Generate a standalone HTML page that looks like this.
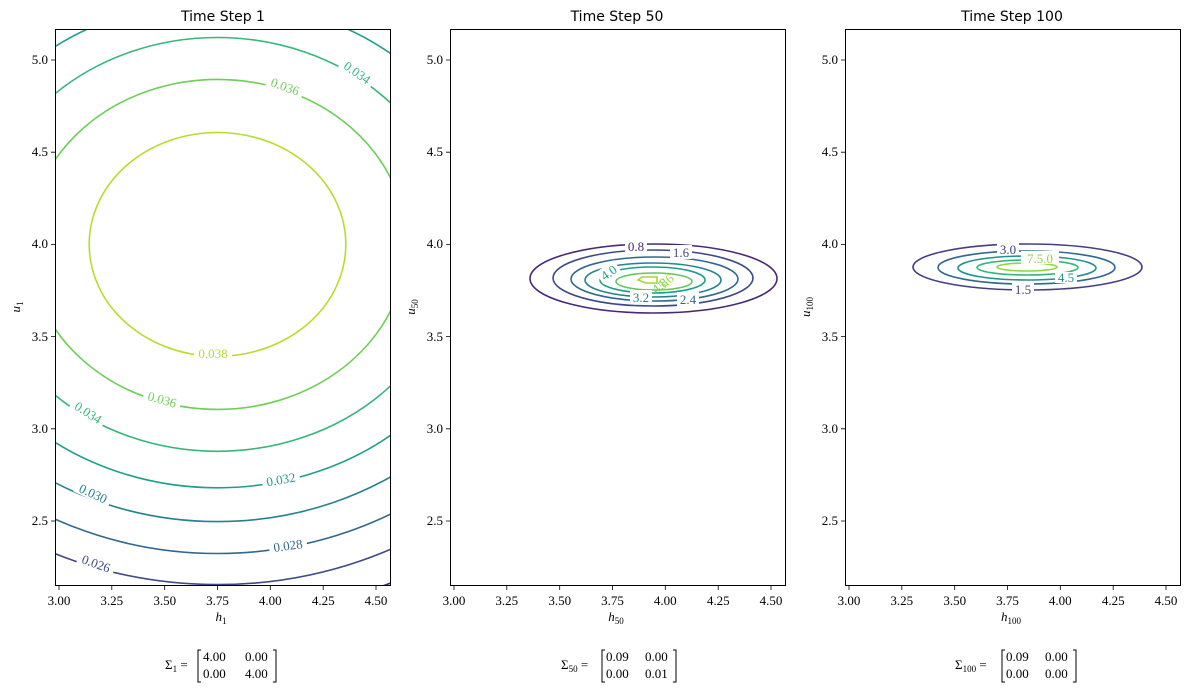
<!DOCTYPE html>
<html><head><meta charset="utf-8"><style>
html,body{margin:0;padding:0;background:#fff}
svg{display:block}
.t{font-family:"Liberation Serif",serif;font-size:13px;fill:#000}
.ttl{font-family:"DejaVu Sans","Liberation Sans",sans-serif;font-size:14px;fill:#000}
.lbl{font-family:"Liberation Serif",serif;font-size:13px}
</style></head><body>
<svg width="1189" height="692" viewBox="0 0 1189 692" xmlns="http://www.w3.org/2000/svg">
<defs>
<clipPath id="c1"><rect x="55" y="29" width="336" height="557"/></clipPath>
</defs>
<g clip-path="url(#c1)" fill="none" stroke-width="1.6">
<ellipse cx="217.5" cy="244.4" rx="424.9" ry="370.8" stroke="#482878"/>
<ellipse cx="217.5" cy="244.4" rx="389.8" ry="340.2" stroke="#3e4a89"/>
<ellipse cx="217.5" cy="244.4" rx="354.1" ry="309.1" stroke="#31688e"/>
<ellipse cx="217.5" cy="244.4" rx="317.6" ry="277.2" stroke="#26828e"/>
<ellipse cx="217.5" cy="244.4" rx="278.9" ry="243.4" stroke="#1f9e89"/>
<ellipse cx="217.5" cy="244.4" rx="237.1" ry="206.9" stroke="#35b779"/>
<ellipse cx="217.5" cy="244.4" rx="189.1" ry="165.0" stroke="#6ece58"/>
<ellipse cx="217.5" cy="244.4" rx="128.3" ry="111.9" stroke="#b5de2b"/>
</g>
<g class="lbl" text-anchor="middle">
<g transform="translate(357,73) rotate(35)"><rect x="-19" y="-8" width="38" height="14" fill="#fff"/><text y="4" fill="#35b779">0.034</text></g>
<g transform="translate(285,87) rotate(20)"><rect x="-19" y="-8" width="38" height="14" fill="#fff"/><text y="4" fill="#6ece58">0.036</text></g>
<g transform="translate(213,354)"><rect x="-19" y="-8" width="38" height="14" fill="#fff"/><text y="4" fill="#b5de2b">0.038</text></g>
<g transform="translate(162,400) rotate(16)"><rect x="-19" y="-8" width="38" height="14" fill="#fff"/><text y="4" fill="#6ece58">0.036</text></g>
<g transform="translate(88,413) rotate(33)"><rect x="-19" y="-8" width="38" height="14" fill="#fff"/><text y="4" fill="#35b779">0.034</text></g>
<g transform="translate(281,480) rotate(-10)"><rect x="-19" y="-8" width="38" height="14" fill="#fff"/><text y="4" fill="#1f9e89">0.032</text></g>
<g transform="translate(93,494) rotate(25)"><rect x="-19" y="-8" width="38" height="14" fill="#fff"/><text y="4" fill="#26828e">0.030</text></g>
<g transform="translate(288,546) rotate(-8)"><rect x="-19" y="-8" width="38" height="14" fill="#fff"/><text y="4" fill="#31688e">0.028</text></g>
<g transform="translate(96,564) rotate(20)"><rect x="-19" y="-8" width="38" height="14" fill="#fff"/><text y="4" fill="#3e4a89">0.026</text></g>
</g>

<!-- panel 2 -->
<g fill="none" stroke-width="1.6">
<ellipse cx="653.5" cy="278.5" rx="123.5" ry="34.5" stroke="#482878"/>
<ellipse cx="653" cy="278" rx="100" ry="28" stroke="#3e4989"/>
<ellipse cx="654.5" cy="279" rx="83.5" ry="22" stroke="#31688e"/>
<ellipse cx="653" cy="280" rx="68" ry="17" stroke="#26828e"/>
<ellipse cx="652.5" cy="280" rx="52.5" ry="13" stroke="#1f9e89"/>
<ellipse cx="654" cy="281.5" rx="38" ry="8.5" stroke="#5ec962"/>
<polygon points="638,280 642,277 657,277 657,283 646,283" stroke="#a0da39"/>
</g>
<g class="lbl" text-anchor="middle">
<g transform="translate(636,247)"><rect x="-11" y="-8" width="22" height="14" fill="#fff"/><text y="4" fill="#482878">0.8</text></g>
<g transform="translate(681,253)"><rect x="-11" y="-8" width="22" height="14" fill="#fff"/><text y="4" fill="#3e4989">1.6</text></g>
<g transform="translate(688,300)"><rect x="-11" y="-8" width="22" height="14" fill="#fff"/><text y="4" fill="#31688e">2.4</text></g>
<g transform="translate(641,298)"><rect x="-11" y="-8" width="22" height="14" fill="#fff"/><text y="4" fill="#26828e">3.2</text></g>
<g transform="translate(609,273) rotate(-35)"><rect x="-11" y="-8" width="22" height="14" fill="#fff"/><text y="4" fill="#1f9e89">4.0</text></g>
<g transform="translate(660,286) rotate(-40)"><text y="4" fill="#7ad151">4.8</text></g>
<g transform="translate(666,282) rotate(-40)"><text y="4" fill="#a0da39">5.6</text></g>
</g>

<!-- panel 3 -->
<g fill="none" stroke-width="1.6">
<ellipse cx="1027.5" cy="267" rx="114.5" ry="23" stroke="#433e85"/>
<ellipse cx="1026.5" cy="267.5" rx="88.5" ry="16.5" stroke="#31688e"/>
<ellipse cx="1027" cy="268" rx="69" ry="12" stroke="#21918c"/>
<ellipse cx="1027.5" cy="267.5" rx="50.5" ry="7.5" stroke="#35b779"/>
<ellipse cx="1027" cy="267" rx="30" ry="4" stroke="#8fd744"/>
</g>
<g class="lbl" text-anchor="middle">
<g transform="translate(1008,250)"><rect x="-11" y="-8" width="22" height="13" fill="#fff"/><text y="4" fill="#433e85">3.0</text></g>
<g transform="translate(1023,290)"><rect x="-11" y="-8" width="22" height="14" fill="#fff"/><text y="4" fill="#433e85">1.5</text></g>
<g transform="translate(1066,278)"><rect x="-11" y="-6" width="22" height="11" fill="#fff"/><text y="4" fill="#21918c">4.5</text></g>
<g transform="translate(1040,259)"><rect x="-19" y="-8" width="38" height="13" fill="#fff"/><text y="4" fill="#8fd744">7.5.0</text></g>
</g>

<g fill="none" stroke="#000" stroke-width="1">
<rect x="55.5" y="29.5" width="335" height="556"/>
<rect x="450.5" y="29.5" width="335" height="556"/>
<rect x="845.5" y="29.5" width="335" height="556"/>
</g>
<g stroke="#000" stroke-width="0.8">
<path d="M59,586v4M111.8,586v4M164.7,586v4M217.5,586v4M270.3,586v4M323.2,586v4M376,586v4"/>
<path d="M454,586v4M506.8,586v4M559.7,586v4M612.5,586v4M665.3,586v4M718.2,586v4M771,586v4"/>
<path d="M849,586v4M901.8,586v4M954.7,586v4M1007.5,586v4M1060.3,586v4M1113.2,586v4M1166,586v4"/>
<path d="M55,60h-4M55,152.2h-4M55,244.4h-4M55,336.6h-4M55,428.8h-4M55,521h-4"/>
<path d="M450,60h-4M450,152.2h-4M450,244.4h-4M450,336.6h-4M450,428.8h-4M450,521h-4"/>
<path d="M845,60h-4M845,152.2h-4M845,244.4h-4M845,336.6h-4M845,428.8h-4M845,521h-4"/>
</g>
<g class="t" text-anchor="middle">
<text x="59" y="605">3.00</text><text x="111.8" y="605">3.25</text><text x="164.7" y="605">3.50</text><text x="217.5" y="605">3.75</text><text x="270.3" y="605">4.00</text><text x="323.2" y="605">4.25</text><text x="376" y="605">4.50</text>
<text x="454" y="605">3.00</text><text x="506.8" y="605">3.25</text><text x="559.7" y="605">3.50</text><text x="612.5" y="605">3.75</text><text x="665.3" y="605">4.00</text><text x="718.2" y="605">4.25</text><text x="771" y="605">4.50</text>
<text x="849" y="605">3.00</text><text x="901.8" y="605">3.25</text><text x="954.7" y="605">3.50</text><text x="1007.5" y="605">3.75</text><text x="1060.3" y="605">4.00</text><text x="1113.2" y="605">4.25</text><text x="1166" y="605">4.50</text>
</g>
<g class="t" text-anchor="end">
<text x="48" y="64">5.0</text><text x="48" y="156">4.5</text><text x="48" y="248">4.0</text><text x="48" y="341">3.5</text><text x="48" y="433">3.0</text><text x="48" y="525">2.5</text>
<text x="443" y="64">5.0</text><text x="443" y="156">4.5</text><text x="443" y="248">4.0</text><text x="443" y="341">3.5</text><text x="443" y="433">3.0</text><text x="443" y="525">2.5</text>
<text x="838" y="64">5.0</text><text x="838" y="156">4.5</text><text x="838" y="248">4.0</text><text x="838" y="341">3.5</text><text x="838" y="433">3.0</text><text x="838" y="525">2.5</text>
</g>
<g class="t" text-anchor="middle" font-style="italic">
<text x="221" y="621">h<tspan font-size="9" dy="3" font-style="normal">1</tspan></text>
<text x="616" y="621">h<tspan font-size="9" dy="3" font-style="normal">50</tspan></text>
<text x="1011" y="621">h<tspan font-size="9" dy="3" font-style="normal">100</tspan></text>
<text transform="translate(20,307) rotate(-90)">u<tspan font-size="9" dy="3" font-style="normal">1</tspan></text>
<text transform="translate(415,307) rotate(-90)">u<tspan font-size="9" dy="3" font-style="normal">50</tspan></text>
<text transform="translate(810,307) rotate(-90)">u<tspan font-size="9" dy="3" font-style="normal">100</tspan></text>
</g>
<g class="ttl" text-anchor="middle">
<text x="223" y="21">Time Step 1</text>
<text x="617" y="21">Time Step 50</text>
<text x="1012" y="21">Time Step 100</text>
</g>
<g class="t">
<text x="165" y="669">Σ<tspan font-size="9" dy="3">1</tspan><tspan dy="-3"> =</tspan></text>
<path d="M201,650h-3v32h3M273,650h3v32h-3" fill="none" stroke="#000" stroke-width="1"/>
<text x="203" y="661">4.00</text><text x="245" y="661">0.00</text>
<text x="203" y="678">0.00</text><text x="245" y="678">4.00</text>

<text x="561" y="669">Σ<tspan font-size="9" dy="3">50</tspan><tspan dy="-3"> =</tspan></text>
<path d="M605,650h-3v32h3M673,650h3v32h-3" fill="none" stroke="#000" stroke-width="1"/>
<text x="606" y="661">0.09</text><text x="645" y="661">0.00</text>
<text x="606" y="678">0.00</text><text x="645" y="678">0.01</text>

<text x="955" y="669">Σ<tspan font-size="9" dy="3">100</tspan><tspan dy="-3"> =</tspan></text>
<path d="M1005,650h-3v32h3M1073,650h3v32h-3" fill="none" stroke="#000" stroke-width="1"/>
<text x="1006" y="661">0.09</text><text x="1045" y="661">0.00</text>
<text x="1006" y="678">0.00</text><text x="1045" y="678">0.00</text>
</g>
</svg>
</body></html>
